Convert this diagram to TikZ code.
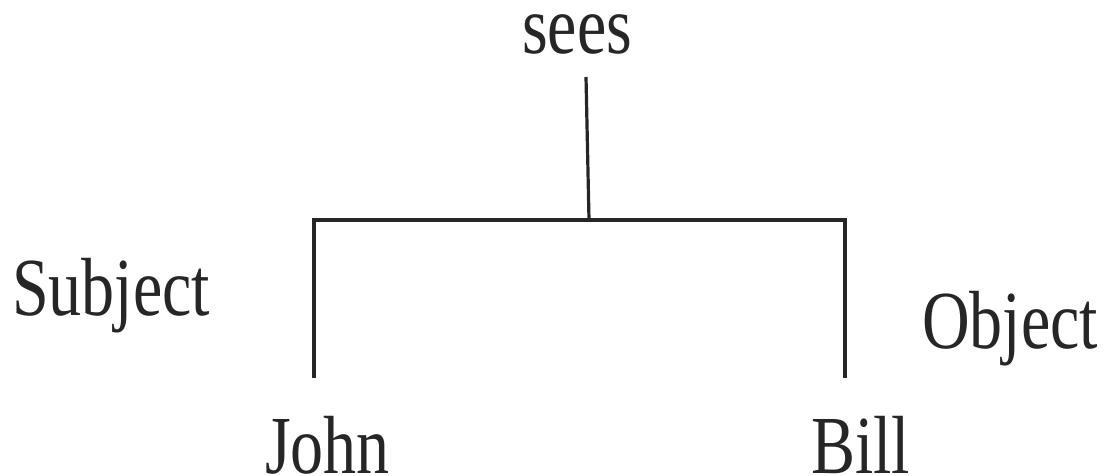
\documentclass[tikz,border=0pt]{standalone}
\usepackage{fontspec}
\setmainfont{Liberation Serif}
\newcommand{\tallword}[1]{\scalebox{1}[1.25]{#1}}
\begin{document}
\begin{tikzpicture}[x=1pt,y=-1pt,
  word/.style={inner sep=0pt,anchor=base west,font=\fontsize{66}{79}\selectfont,text=black!85},
  branch/.style={line width=3.2pt,draw=black!85}]
\useasboundingbox (0,0) rectangle (1107,475);
\node[word,anchor=base] (sees) at (577,53) {\tallword{sees}};
\node[word] (subj) at (12,315) {\tallword{Subject}};
\node[word] (obj) at (922,348) {\tallword{Object}};
\node[word] (john) at (265,473) {\tallword{John}};
\node[word] (bill) at (811,473) {\tallword{Bill}};
\coordinate (top) at (586,77);
\coordinate (mid) at (589,220);
\coordinate (lc) at (314,220);
\coordinate (rc) at (845,220);
\coordinate (lb) at (314,378);
\coordinate (rb) at (845,378);
\draw[branch] (top) -- (mid);
\draw[branch] (lb) -- (lc) -- (rc) -- (rb);
\end{tikzpicture}
\end{document}
